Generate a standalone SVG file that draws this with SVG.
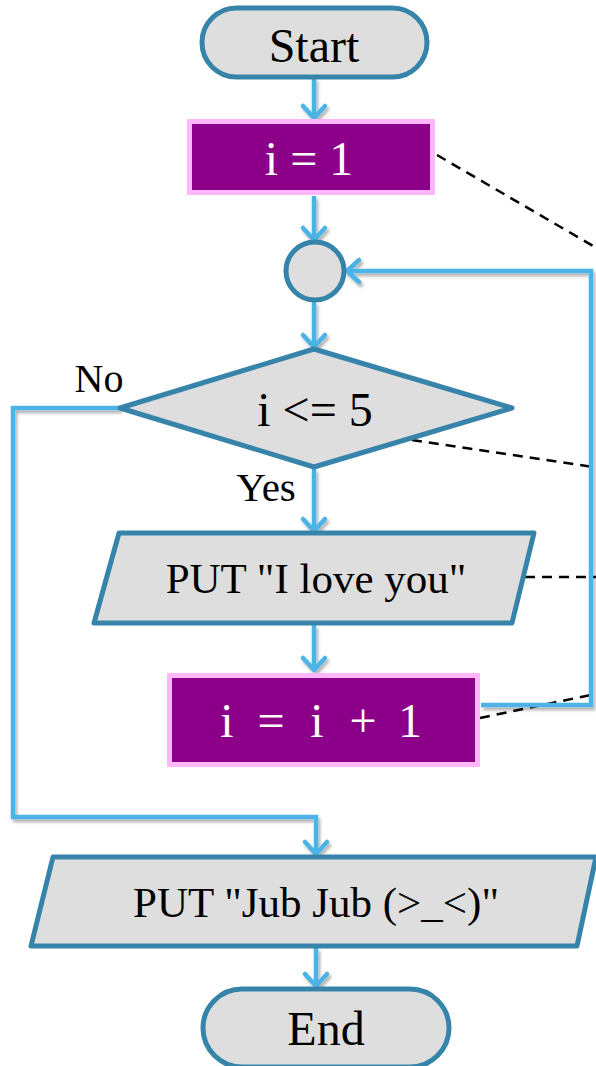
<svg xmlns="http://www.w3.org/2000/svg" width="596" height="1066" viewBox="0 0 596 1066">
<style>
.term{fill:#dedede;stroke:#3784aa;stroke-width:5}
.proc{fill:#8c0089;stroke:#ffb6fb;stroke-width:5}
.io{fill:#dedede;stroke:#3784aa;stroke-width:5;stroke-linejoin:round}
.dec{fill:#dedede;stroke:#3784aa;stroke-width:5;stroke-linejoin:round}
.conn{fill:none;stroke:#4bb3e5;stroke-width:4.5;stroke-linejoin:miter}
.dash{fill:none;stroke:#000;stroke-width:2.5;stroke-dasharray:10 7}
.t{font-family:"Liberation Serif","Times New Roman",serif;fill:#000;text-anchor:middle}
.w{fill:#fff}
</style>
<defs>
<marker id="ah" markerUnits="userSpaceOnUse" viewBox="-16 -14 20 28" refX="0" refY="0" markerWidth="20" markerHeight="28" orient="auto" overflow="visible">
<path d="M-12,-11 L0,0 L-12,11" fill="none" stroke="#4bb3e5" stroke-width="4.5" stroke-linecap="round" stroke-linejoin="round"/>
</marker>
<filter id="sh" x="-20%" y="-20%" width="140%" height="140%">
<feDropShadow dx="2" dy="3" stdDeviation="1.5" flood-color="#000" flood-opacity="0.3"/>
</filter>
</defs>

<g id="annotations">
<line class="dash" x1="437" y1="155" x2="600" y2="250"/>
<line class="dash" x1="412" y1="440" x2="600" y2="468"/>
<line class="dash" x1="525" y1="577" x2="600" y2="577"/>
<line class="dash" x1="480" y1="718" x2="600" y2="693"/>
</g>

<g id="connectors" filter="url(#sh)">
<line class="conn" x1="314" y1="78" x2="314" y2="118" marker-end="url(#ah)"/>
<line class="conn" x1="314" y1="196" x2="314" y2="240" marker-end="url(#ah)"/>
<line class="conn" x1="314" y1="302" x2="314" y2="347" marker-end="url(#ah)"/>
<line class="conn" x1="314" y1="469" x2="314" y2="531" marker-end="url(#ah)"/>
<line class="conn" x1="314" y1="625" x2="314" y2="670" marker-end="url(#ah)"/>
<polyline class="conn" points="120,408 13,408 13,817 316,817 316,854" marker-end="url(#ah)"/>
<line class="conn" x1="316" y1="948" x2="316" y2="986" marker-end="url(#ah)"/>
<polyline class="conn" points="481,705 591,705 591,271 347,271" marker-end="url(#ah)"/>
</g>

<g id="start">
<rect class="term" x="202" y="8" width="225" height="69" rx="34.5"/>
<text class="t" x="314" y="62" font-size="48">Start</text>
</g>

<g id="init">
<rect class="proc" x="189.5" y="121.5" width="243" height="71"/>
<text class="t w" x="309" y="175" font-size="48">i = 1</text>
</g>

<g id="junction">
<circle class="term" cx="315" cy="271" r="29"/>
</g>

<g id="decision">
<polygon class="dec" points="314,349 512,408 314,467 120,408"/>
<text class="t" x="315" y="426" font-size="48">i &lt;= 5</text>
</g>
<text class="t" x="99" y="392" font-size="40">No</text>
<text class="t" x="266" y="501" font-size="41">Yes</text>

<g id="put1">
<polygon class="io" points="119,533 534,533 512,623 94,623"/>
<text class="t" x="316" y="593" font-size="43">PUT "I love you"</text>
</g>

<g id="incr">
<rect class="proc" x="169.5" y="675.5" width="308" height="89"/>
<text class="t w" font-size="48"><tspan x="227" y="737">i</tspan><tspan x="271" y="737">=</tspan><tspan x="317" y="737">i</tspan><tspan x="363" y="737">+</tspan><tspan x="410" y="737">1</tspan></text>
</g>

<g id="put2">
<polygon class="io" points="53,857 596,857 577,946 31,946"/>
<text class="t" x="316" y="917" font-size="43">PUT "Jub Jub (&gt;_&lt;)"</text>
</g>

<g id="end">
<rect class="term" x="203" y="989" width="246" height="78" rx="39"/>
<text class="t" x="326" y="1045" font-size="48">End</text>
</g>
</svg>
